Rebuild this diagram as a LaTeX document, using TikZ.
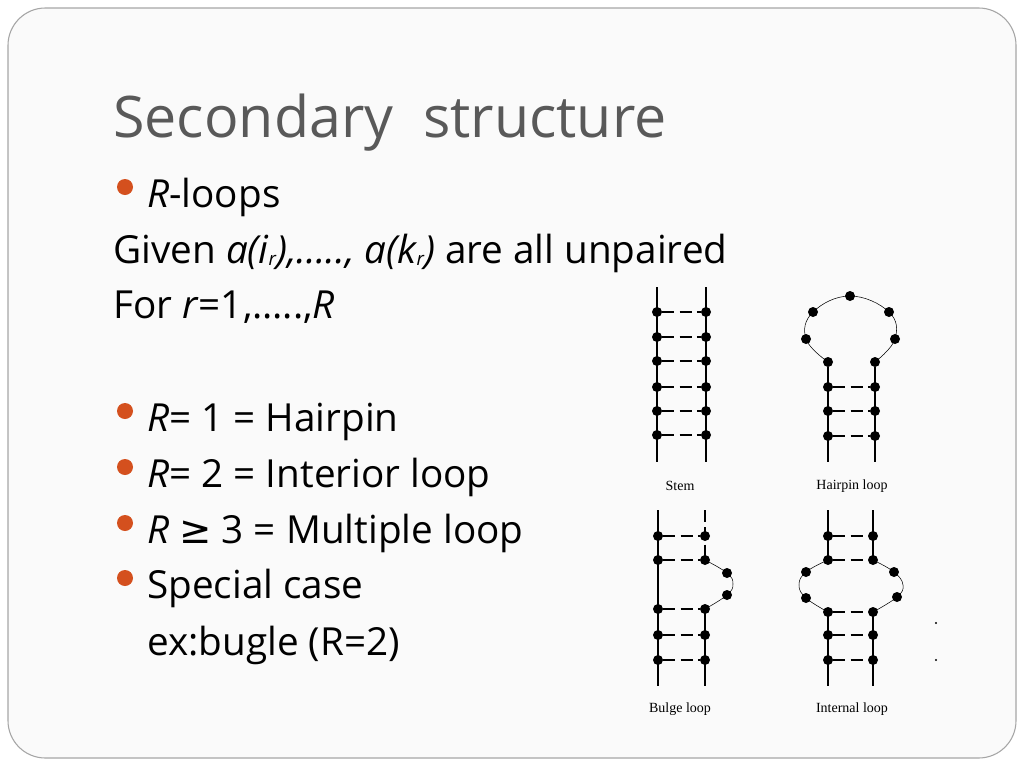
\documentclass[tikz,border=0pt]{standalone}
\usepackage{fontspec}
\setmainfont{Open Sans}
\newfontfamily\symfont{DejaVu Sans}
\newfontfamily\figfont{Liberation Serif}
\usetikzlibrary{arrows.meta, positioning}
\definecolor{slidegray}{HTML}{595959}
\definecolor{bulletred}{HTML}{D4501E}
\tikzset{
  txt/.style = {anchor=base west, inner sep=0pt, font=\fontsize{29}{33}\selectfont},
  bul/.style = {circle, fill=bulletred, inner sep=0pt, minimum size=12pt},
  base/.style = {circle, fill=black, inner sep=0pt, minimum size=7.5pt},
  strand/.style = {line width=1.2pt},
  pair/.style = {line width=0.9pt, dash pattern=on 9pt off 4pt},
  figlabel/.style = {font=\figfont\fontsize{10.5}{12}\selectfont, inner sep=0pt}
}
\newcommand{\sub}[1]{\raisebox{-0.1ex}{\fontsize{14}{14}\selectfont #1}}
\begin{document}
\begin{tikzpicture}[x=0.75pt, y=-0.75pt]
				\useasboundingbox (0,0) rectangle (1024,768);
				\fill[white] (0,0) rectangle (1024,768);
				\draw[gray!70, line width=0.8pt, rounded corners=28pt, fill=gray!4] (8,8) rectangle (1016,758);

				% title and text
				\node[txt, font=\fontsize{43}{50}\selectfont, text=slidegray] (title) at (113,137) {Secondary\ \ structure};
				\node[bul] (b1) at (125,187) {};
				\node[txt] (t1) at (147,207) {\textit{R}-loops};
				\node[txt] (t2) at (113,263) {Given \textit{a(i\sub{r}),\dots.., a(k\sub{r})} are all unpaired};
				\node[txt] (t3) at (113,318) {For \textit{r}=1,\dots..,\textit{R}};
				\node[bul] (b2) at (125,411) {};
				\node[txt] (t4) at (147,431) {\textit{R}= 1 = Hairpin};
				\node[bul] (b3) at (125,467) {};
				\node[txt] (t5) at (147,487) {\textit{R}= 2 = Interior loop};
				\node[bul] (b4) at (125,523) {};
				\node[txt] (t6) at (147,543) {\textit{R} {\symfont ≥} 3 = Multiple loop};
				\node[bul] (b5) at (125,578) {};
				\node[txt] (t7) at (147,598) {Special case};
				\node[txt] (t8) at (147,655) {ex:bugle (R=2)};

				% stem
				\draw[strand] (657,287) -- (657,462);
				\draw[strand] (706,287) -- (706,462);
				\foreach \y [count=\i] in {312,337,361,387,411,435} {
					\node[base] (sl\i) at (657,\y) {};
					\node[base] (sr\i) at (706,\y) {};
					\draw[pair] (sl\i) -- (sr\i);
				}
				\node[figlabel] (stem) at (680,486) {Stem};

				% hairpin loop
				\node[base] (hl1) at (828,362) {};
				\node[base] (hr1) at (875,362) {};
				\draw[strand] (hl1) -- (828,462);
				\draw[strand] (hr1) -- (875,462);
				\foreach \y [count=\i from 2] in {387,411,436} {
					\node[base] (hl\i) at (828,\y) {};
					\node[base] (hr\i) at (875,\y) {};
					\draw[pair] (hl\i) -- (hr\i);
				}
				\node[base] (h1) at (806,339) {};
				\node[base] (h2) at (813,312) {};
				\node[base] (h3) at (850,296) {};
				\node[base] (h4) at (889,312) {};
				\node[base] (h5) at (895,339) {};
				\draw[thin] plot[smooth, tension=0.7] coordinates {(hl1) (h1) (h2) (h3) (h4) (h5) (hr1)};
				\node[figlabel] (hairpin) at (852,486) {Hairpin loop};

				% bulge loop
				\draw[strand] (658,510) -- (658,686);
				\draw[strand] (705,609) -- (705,686);
				\draw[pair] (705,510) -- (705,560);
				\foreach \y [count=\i] in {536,560,609,635,660} {
					\node[base] (bl\i) at (658,\y) {};
					\node[base] (br\i) at (705,\y) {};
					\draw[pair] (bl\i) -- (br\i);
				}
				\node[base] (g1) at (727,573) {};
				\node[base] (g2) at (727,595) {};
				\draw[thin] plot[smooth, tension=0.7] coordinates {(br2) (g1) (733,584) (g2) (br3)};
				\node[figlabel] (bulge) at (680,709) {Bulge loop};

				% internal loop
				\draw[strand] (828,510) -- (828,560);
				\draw[strand] (873,510) -- (873,560);
				\draw[strand] (828,612) -- (828,686);
				\draw[strand] (873,612) -- (873,686);
				\foreach \y [count=\i] in {536,560,612,635,660} {
					\node[base] (il\i) at (828,\y) {};
					\node[base] (ir\i) at (873,\y) {};
					\draw[pair] (il\i) -- (ir\i);
				}
				\node[base] (n1) at (806,572) {};
				\node[base] (n2) at (806,598) {};
				\node[base] (n3) at (894,572) {};
				\node[base] (n4) at (897,597) {};
				\draw[thin] plot[smooth, tension=0.7] coordinates {(il2) (n1) (799,585) (n2) (il3)};
				\draw[thin] plot[smooth, tension=0.7] coordinates {(ir2) (n3) (903,585) (n4) (ir3)};
				\node[figlabel] (internal) at (852,709) {Internal loop};

				\fill (936,623) circle (0.8pt);
				\fill (936,660) circle (0.8pt);
			\end{tikzpicture}
\end{document}
